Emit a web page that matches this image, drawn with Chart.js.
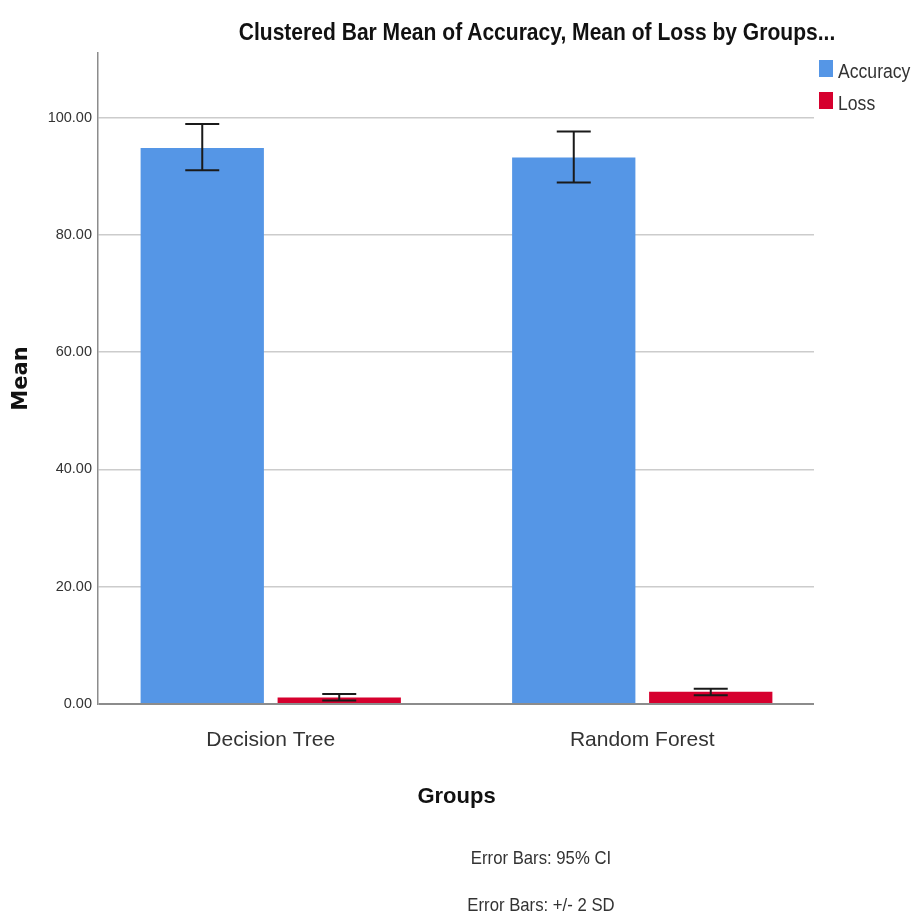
<!DOCTYPE html>
<html><head><meta charset="utf-8">
<script src="https://cdn.jsdelivr.net/npm/chart.js@4.4.1/dist/chart.umd.min.js"></script>
<style>
html,body{margin:0;padding:0;background:#fff;}
#wrap{position:relative;width:914px;height:916px;overflow:hidden;}
#c{position:absolute;left:0;top:0;}
.t{position:absolute;white-space:nowrap;font-family:"Liberation Sans Narrow","Arial Narrow","Liberation Sans",Arial,sans-serif;color:#222;line-height:1;}
.box{position:absolute;width:14px;height:17px;}
</style></head><body>
<div id="wrap">
<canvas id="c" width="914" height="916"></canvas>
<div class="t" id="title" style="font-weight:bold;font-size:24px;left:537px;top:20px;transform:translateX(-50%) scaleX(0.877);transform-origin:center;color:#111;">Clustered Bar Mean of Accuracy, Mean of Loss by Groups...</div>
<div class="box" style="left:819px;top:60px;background:#5596e6;"></div>
<div class="t" style="left:838px;top:61px;font-size:20px;color:#333;transform:scaleX(0.88);transform-origin:left center;">Accuracy</div>
<div class="box" style="left:819px;top:92px;background:#d6002e;"></div>
<div class="t" style="left:838px;top:93px;font-size:20px;color:#333;transform:scaleX(0.88);transform-origin:left center;">Loss</div>
<div class="t" style="left:541px;top:848px;font-size:19px;transform:translateX(-50%) scaleX(0.88);transform-origin:center;color:#333;">Error Bars: 95% CI</div>
<div class="t" style="left:541px;top:895px;font-size:19px;transform:translateX(-50%) scaleX(0.88);transform-origin:center;color:#333;">Error Bars: +/- 2 SD</div>
</div>
<script>
const categories = ['Decision Tree', 'Random Forest'];
const accuracyMean = [94.8, 93.2];
const accuracyLow = [91.0, 88.9];
const accuracyHigh = [98.9, 97.6];
const lossMean = [1.1, 2.1];
const lossLow = [0.6, 1.5];
const lossHigh = [1.7, 2.6];
const yTicks = [0, 20, 40, 60, 80, 100];

const NARROW = '"Liberation Sans Narrow","Arial Narrow","Liberation Sans",Arial,sans-serif';

const errorBars = {
  id: 'errorBars',
  afterDatasetsDraw(chart) {
    const ctx = chart.ctx;
    const y = chart.scales.y;
    chart.data.datasets.forEach((ds, i) => {
      const meta = chart.getDatasetMeta(i);
      meta.data.forEach((bar, j) => {
        const yh = y.getPixelForValue(ds.errHigh[j]);
        const yl = y.getPixelForValue(ds.errLow[j]);
        const half = 17;
        ctx.save();
        ctx.strokeStyle = '#1a1a1a';
        ctx.lineWidth = 2;
        ctx.beginPath();
        ctx.moveTo(bar.x, yh); ctx.lineTo(bar.x, yl);
        ctx.moveTo(bar.x - half, yh); ctx.lineTo(bar.x + half, yh);
        ctx.moveTo(bar.x - half, yl); ctx.lineTo(bar.x + half, yl);
        ctx.stroke();
        ctx.restore();
      });
    });
  }
};

// category axis spans slightly wider than the plotting frame (as in the SPSS original)
const widenX = {
  id: 'widenX',
  afterLayout(chart) {
    const x = chart.scales.x;
    const a = chart.chartArea;
    x.left = a.left - 13;
    x.right = a.right + 14;
    x.width = x.right - x.left;
    x.configure();
  }
};

new Chart(document.getElementById('c'), {
  type: 'bar',
  data: {
    labels: categories,
    datasets: [
      { label: 'Accuracy', data: accuracyMean, errLow: accuracyLow, errHigh: accuracyHigh,
        backgroundColor: '#5596e6', categoryPercentage: 0.7375, barPercentage: 0.9 },
      { label: 'Loss', data: lossMean, errLow: lossLow, errHigh: lossHigh,
        backgroundColor: '#d6002e', categoryPercentage: 0.7375, barPercentage: 0.9 }
    ]
  },
  options: {
    responsive: false,
    animation: false,
    devicePixelRatio: 1,
    layout: { padding: { left: 0, top: 53, right: 100, bottom: 92 } },
    plugins: { legend: { display: false }, title: { display: false }, tooltip: { enabled: false } },
    scales: {
      x: {
        afterFit(s) { s.height = 120; },
        grid: { display: false, drawTicks: false },
        border: { display: false },
        ticks: { padding: 24, color: '#333', font: { family: NARROW, size: 21 } },
        title: { display: true, text: 'Groups', color: '#111', padding: { top: 0, bottom: 14 },
                 font: { family: '"Liberation Sans", Arial, sans-serif', size: 22, weight: 'bold' } }
      },
      y: {
        min: 0, max: 111,
        afterFit(s) { s.width = 98; },
        afterBuildTicks(s) { s.ticks = yTicks.map(v => ({ value: v })); },
        ticks: { padding: 6, color: '#333', font: { family: NARROW, size: 14.5 },
                 callback: v => Number(v).toFixed(2) },
        grid: { drawTicks: false,
                color: c => (c.tick && c.tick.value === 0) ? '#8c8c8c' : '#cccccc',
                lineWidth: c => (c.tick && c.tick.value === 0) ? 2 : 1.5 },
        border: { color: '#8c8c8c', width: 1.5 },
        title: { display: true, text: 'Mean', color: '#111', padding: { top: 9, bottom: 0 },
                 font: { family: '"DejaVu Sans", Verdana, sans-serif', size: 21, weight: 'bold' } }
      }
    }
  },
  plugins: [errorBars, widenX]
});
</script>
</body></html>
